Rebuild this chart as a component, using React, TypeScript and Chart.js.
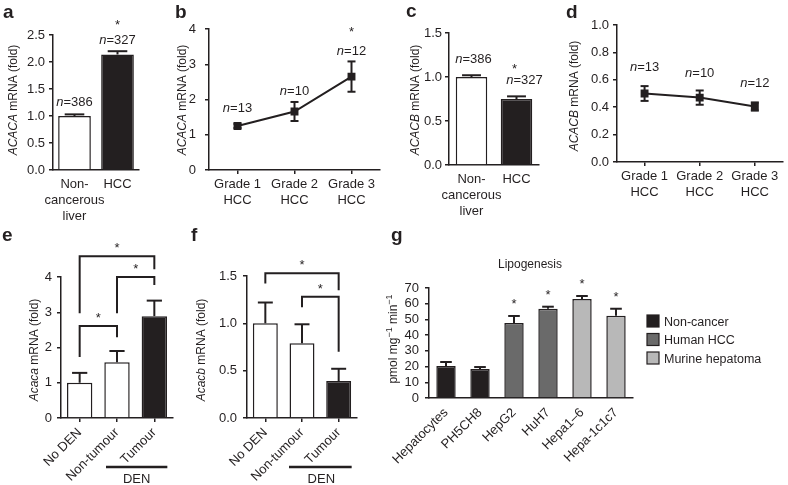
import React, { useEffect, useRef } from 'react';
import { Chart, registerables } from 'chart.js';

Chart.register(...registerables);

const FONT = '"Liberation Sans", Arial, Helvetica, sans-serif';
const INK = '#231f20';

// ---------- data ----------
// a
const aCategories = [['Non-', 'cancerous', 'liver'], 'HCC'];
const aValues = [1.0, 2.14];
const aErrors = [0.03, 0.06];
const aN = ['386', '327'];
const aTicks = { min: 0, max: 2.5, step: 0.5 };
// b
const bCategories = [['Grade 1', 'HCC'], ['Grade 2', 'HCC'], ['Grade 3', 'HCC']];
const bValues = [1.25, 1.66, 2.65];
const bErrors = [0.06, 0.27, 0.43];
const bN = ['13', '10', '12'];
const bTicks = { min: 0, max: 4, step: 1 };
// c
const cCategories = [['Non-', 'cancerous', 'liver'], 'HCC'];
const cValues = [1.0, 0.75];
const cErrors = [0.02, 0.03];
const cN = ['386', '327'];
const cTicks = { min: 0, max: 1.5, step: 0.5 };
// d
const dCategories = [['Grade 1', 'HCC'], ['Grade 2', 'HCC'], ['Grade 3', 'HCC']];
const dValues = [0.5, 0.47, 0.405];
const dErrors = [0.054, 0.052, 0.03];
const dN = ['13', '10', '12'];
const dTicks = { min: 0, max: 1.0, step: 0.2 };
// e
const eCategories = ['No DEN', 'Non-tumour', 'Tumour'];
const eValues = [1.0, 1.58, 2.89];
const eErrors = [0.28, 0.32, 0.44];
const eTicks = { min: 0, max: 4, step: 1 };
const eBrackets = [
  { from: 0, to: 2, level: 4.59, leftEnd: 2.97, rightEnd: 4.22 },
  { from: 1, to: 2, level: 4.0, leftEnd: 2.97, rightEnd: 3.77 },
  { from: 0, to: 1, level: 2.61, leftEnd: 1.73, rightEnd: 2.29 },
];
// f
const fCategories = ['No DEN', 'Non-tumour', 'Tumour'];
const fValues = [1.0, 0.79, 0.39];
const fErrors = [0.22, 0.2, 0.13];
const fTicks = { min: 0, max: 1.5, step: 0.5 };
const fBrackets = [
  { from: 0, to: 2, level: 1.53, leftEnd: 1.42, rightEnd: 1.35 },
  { from: 1, to: 2, level: 1.28, leftEnd: 1.17, rightEnd: 0.7 },
];
// g
const gCategories = ['Hepatocytes', 'PH5CH8', 'HepG2', 'HuH7', 'Hepa1\u20136', 'Hepa-1c1c7'];
const gValues = [20.4, 18.5, 47.7, 56.8, 63.0, 52.4];
const gErrors = [2.5, 1.2, 4.5, 1.3, 1.9, 4.4];
const gGroup = [0, 0, 1, 1, 2, 2];
const gSignificant = [false, false, true, true, true, true];
const gLegend = ['Non-cancer', 'Human HCC', 'Murine hepatoma'];
const gColors = ['#231f20', '#6a6a6a', '#b8b8b8'];
const gTicks = { min: 0, max: 70, step: 10 };

// ---------- drawing helpers ----------
type Part = { t: string; i?: boolean; sup?: boolean };

function drawRich(ctx: CanvasRenderingContext2D, parts: Part[], x: number, y: number, size: number, align: 'left' | 'center' | 'right' = 'center') {
  const fonts = parts.map((p) => `${p.i ? 'italic ' : ''}${p.sup ? Math.round(size * 0.72) : size}px ${FONT}`);
  const widths = parts.map((p, k) => {
    ctx.font = fonts[k];
    return ctx.measureText(p.t).width;
  });
  const total = widths.reduce((s, w) => s + w, 0);
  let cx = align === 'center' ? x - total / 2 : align === 'right' ? x - total : x;
  ctx.textAlign = 'left';
  ctx.textBaseline = 'alphabetic';
  parts.forEach((p, k) => {
    ctx.font = fonts[k];
    ctx.fillText(p.t, cx, p.sup ? y - size * 0.42 : y);
    cx += widths[k];
  });
}

function drawVTitle(ctx: CanvasRenderingContext2D, parts: Part[], x: number, y: number, size: number) {
  ctx.save();
  ctx.translate(x, y);
  ctx.rotate(-Math.PI / 2);
  ctx.fillStyle = INK;
  drawRich(ctx, parts, 0, size * 0.36, size);
  ctx.restore();
}

function text(ctx: CanvasRenderingContext2D, s: string, x: number, y: number, font: string, align: CanvasTextAlign = 'center') {
  ctx.font = font;
  ctx.fillStyle = INK;
  ctx.textAlign = align;
  ctx.textBaseline = 'alphabetic';
  ctx.fillText(s, x, y);
}

function star(ctx: CanvasRenderingContext2D, x: number, yCenter: number) {
  text(ctx, '*', x, yCenter + 7, `13px ${FONT}`);
}

function nLabel(ctx: CanvasRenderingContext2D, n: string, x: number, y: number) {
  ctx.fillStyle = INK;
  drawRich(ctx, [{ t: 'n', i: true }, { t: '=' + n }], x, y, 13);
}

function line(ctx: CanvasRenderingContext2D, pts: number[][], w = 2) {
  ctx.save();
  ctx.strokeStyle = INK;
  ctx.lineWidth = w;
  ctx.lineCap = 'butt';
  ctx.lineJoin = 'miter';
  ctx.beginPath();
  pts.forEach((p, k) => (k ? ctx.lineTo(p[0], p[1]) : ctx.moveTo(p[0], p[1])));
  ctx.stroke();
  ctx.restore();
}

// ---------- panel spec ----------
type Spec = {
  box: [number, number, number, number];
  area: [number, number, number, number];
  type: 'bar' | 'line';
  labels: any[];
  values: number[];
  errors: number[];
  ticks: { min: number; max: number; step: number };
  decimals: number;
  yPad: number;
  colors?: string[];
  barPct?: number;
  xTickMarks: boolean;
  rotate: boolean;
  draw: (chart: any, ctx: CanvasRenderingContext2D, px: (x: number) => number, py: (y: number) => number) => void;
};

function buildChart(canvas: HTMLCanvasElement, s: Spec) {
  const [bx, by, bw, bh] = s.box;
  const [L, T, R, B] = s.area;
  const l = L - bx, t = T - by, r = R - bx, b = B - by;
  const px = (x: number) => x - bx;
  const py = (y: number) => y - by;
  const isBar = s.type === 'bar';

  const dataset: any = isBar
    ? {
        data: s.values,
        backgroundColor: s.colors,
        borderColor: INK,
        borderWidth: 1.5,
        borderSkipped: 'bottom',
        barPercentage: s.barPct ?? 0.7,
        categoryPercentage: 1,
      }
    : {
        data: s.values,
        borderColor: INK,
        borderWidth: 2,
        pointStyle: 'rect',
        pointRadius: 5.6,
        pointBackgroundColor: INK,
        pointBorderColor: INK,
        pointBorderWidth: 0,
        tension: 0,
      };

  const errPlugin = {
    id: 'errbars',
    afterDatasetsDraw(chart: any) {
      const ctx = chart.ctx as CanvasRenderingContext2D;
      const y = chart.scales.y;
      const meta = chart.getDatasetMeta(0);
      meta.data.forEach((el: any, i: number) => {
        const v = s.values[i];
        const e = s.errors[i];
        const x = el.x;
        if (isBar) {
          const half = el.width * 0.3;
          const yTop = y.getPixelForValue(v + e);
          const yBase = y.getPixelForValue(v);
          line(ctx, [[x, yBase], [x, yTop]], 2);
          line(ctx, [[x - half, yTop], [x + half, yTop]], 2);
        } else {
          const yTop = y.getPixelForValue(v + e);
          const yBot = y.getPixelForValue(v - e);
          line(ctx, [[x, yBot], [x, yTop]], 2);
          line(ctx, [[x - 4, yTop], [x + 4, yTop]], 2);
          line(ctx, [[x - 4, yBot], [x + 4, yBot]], 2);
        }
      });
    },
  };

  const decor = {
    id: 'decor',
    afterDraw(chart: any) {
      const ctx = chart.ctx as CanvasRenderingContext2D;
      ctx.save();
      s.draw(chart, ctx, px, py);
      ctx.restore();
    },
  };

  return new Chart(canvas, {
    type: s.type,
    data: { labels: s.labels, datasets: [dataset] },
    options: {
      responsive: false,
      animation: false,
      devicePixelRatio: 1,
      layout: { padding: { left: 0, top: t, right: bw - r, bottom: 0 } },
      plugins: { legend: { display: false }, tooltip: { enabled: false }, title: { display: false } },
      scales: {
        x: {
          type: 'category',
          offset: true,
          grid: {
            display: s.xTickMarks,
            offset: false,
            drawOnChartArea: false,
            drawTicks: s.xTickMarks,
            tickLength: 4,
            color: INK,
            lineWidth: 1.5,
          },
          border: { display: true, color: INK, width: 1.5 },
          ticks: {
            color: INK,
            font: { family: FONT, size: 13 },
            padding: s.xTickMarks ? 3 : 7,
            autoSkip: false,
            maxRotation: s.rotate ? 45 : 0,
            minRotation: s.rotate ? 45 : 0,
          },
          afterFit(sc: any) {
            sc.height = bh - b;
            sc.paddingLeft = 0;
            sc.paddingRight = 0;
          },
        },
        y: {
          type: 'linear',
          min: s.ticks.min,
          max: s.ticks.max,
          grid: {
            display: true,
            drawOnChartArea: false,
            drawTicks: true,
            tickLength: 4,
            color: INK,
            lineWidth: 1.5,
          },
          border: { display: true, color: INK, width: 1.5 },
          ticks: {
            stepSize: s.ticks.step,
            autoSkip: false,
            color: INK,
            font: { family: FONT, size: 13 },
            padding: s.yPad,
            callback: (v: any) => Number(v).toFixed(s.decimals),
          },
          afterFit(sc: any) {
            sc.width = l;
            sc.paddingTop = 0;
            sc.paddingBottom = 0;
          },
        },
      },
    } as any,
    plugins: [errPlugin, decor],
  });
}

const LETTER = `bold 19px ${FONT}`;

const specs: Spec[] = [
  // a
  {
    box: [0, 0, 165, 230],
    area: [53, 35, 139, 170],
    type: 'bar',
    labels: aCategories,
    values: aValues,
    errors: aErrors,
    ticks: aTicks,
    decimals: 1,
    yPad: 4,
    colors: ['#ffffff', INK],
    barPct: 0.76,
    xTickMarks: false,
    rotate: false,
    draw(chart, ctx, px, py) {
      const y = chart.scales.y;
      const m = chart.getDatasetMeta(0).data;
      text(ctx, 'a', px(3), py(18), LETTER, 'left');
      drawVTitle(ctx, [{ t: 'ACACA', i: true }, { t: ' mRNA (fold)' }], px(13), py(100), 12);
      nLabel(ctx, aN[0], m[0].x, y.getPixelForValue(aValues[0] + aErrors[0]) - 8);
      nLabel(ctx, aN[1], m[1].x, y.getPixelForValue(aValues[1] + aErrors[1]) - 7);
      star(ctx, m[1].x, y.getPixelForValue(aValues[1] + aErrors[1]) - 29);
    },
  },
  // b
  {
    box: [165, 0, 230, 230],
    area: [209, 29, 380, 170],
    type: 'line',
    labels: bCategories,
    values: bValues,
    errors: bErrors,
    ticks: bTicks,
    decimals: 0,
    yPad: 9,
    xTickMarks: true,
    rotate: false,
    draw(chart, ctx, px, py) {
      const y = chart.scales.y;
      const m = chart.getDatasetMeta(0).data;
      text(ctx, 'b', px(175), py(18), LETTER, 'left');
      drawVTitle(ctx, [{ t: 'ACACA', i: true }, { t: ' mRNA (fold)' }], px(182), py(100), 12);
      const off = [12, 7, 6];
      m.forEach((el: any, i: number) => nLabel(ctx, bN[i], el.x, y.getPixelForValue(bValues[i] + bErrors[i]) - off[i]));
      star(ctx, m[2].x, y.getPixelForValue(bValues[2] + bErrors[2]) - 32);
    },
  },
  // c
  {
    box: [395, 0, 165, 230],
    area: [449, 33, 539, 165],
    type: 'bar',
    labels: cCategories,
    values: cValues,
    errors: cErrors,
    ticks: cTicks,
    decimals: 1,
    yPad: 3,
    colors: ['#ffffff', INK],
    barPct: 0.7,
    xTickMarks: false,
    rotate: false,
    draw(chart, ctx, px, py) {
      const y = chart.scales.y;
      const m = chart.getDatasetMeta(0).data;
      text(ctx, 'c', px(406), py(17), LETTER, 'left');
      drawVTitle(ctx, [{ t: 'ACACB', i: true }, { t: ' mRNA (fold)' }], px(415), py(100), 12);
      nLabel(ctx, cN[0], m[0].x + 2, y.getPixelForValue(cValues[0] + cErrors[0]) - 12);
      nLabel(ctx, cN[1], m[1].x + 8, y.getPixelForValue(cValues[1] + cErrors[1]) - 12);
      star(ctx, m[1].x - 2, y.getPixelForValue(cValues[1] + cErrors[1]) - 30);
    },
  },
  // d
  {
    box: [560, 0, 228, 230],
    area: [617, 25, 787, 162],
    type: 'line',
    labels: dCategories,
    values: dValues,
    errors: dErrors,
    ticks: dTicks,
    decimals: 1,
    yPad: 4,
    xTickMarks: true,
    rotate: false,
    draw(chart, ctx, px, py) {
      const y = chart.scales.y;
      const m = chart.getDatasetMeta(0).data;
      text(ctx, 'd', px(566), py(18), LETTER, 'left');
      drawVTitle(ctx, [{ t: 'ACACB', i: true }, { t: ' mRNA (fold)' }], px(574), py(96), 12);
      const off = [15, 13, 15];
      m.forEach((el: any, i: number) => nLabel(ctx, dN[i], el.x, y.getPixelForValue(dValues[i] + dErrors[i]) - off[i]));
    },
  },
  // e
  {
    box: [0, 222, 183, 263],
    area: [61, 277, 173, 418],
    type: 'bar',
    labels: eCategories,
    values: eValues,
    errors: eErrors,
    ticks: eTicks,
    decimals: 0,
    yPad: 5,
    colors: ['#ffffff', '#ffffff', INK],
    barPct: 0.68,
    xTickMarks: true,
    rotate: true,
    draw(chart, ctx, px, py) {
      const y = chart.scales.y;
      const m = chart.getDatasetMeta(0).data;
      text(ctx, 'e', px(2), py(241), LETTER, 'left');
      drawVTitle(ctx, [{ t: 'Acaca', i: true }, { t: ' mRNA (fold)' }], px(34), py(350), 12);
      eBrackets.forEach((br) => {
        const x0 = m[br.from].x, x1 = m[br.to].x;
        const yl = y.getPixelForValue(br.level);
        line(ctx, [[x0, y.getPixelForValue(br.leftEnd)], [x0, yl], [x1, yl], [x1, y.getPixelForValue(br.rightEnd)]], 2);
        star(ctx, (x0 + x1) / 2, yl - 11);
      });
      line(ctx, [[m[1].x - 11, py(467)], [m[2].x + 13, py(467)]], 2.5);
      text(ctx, 'DEN', (m[1].x + m[2].x) / 2 + 1, py(483), `13px ${FONT}`);
    },
  },
  // f
  {
    box: [183, 222, 202, 263],
    area: [247, 276, 357, 418],
    type: 'bar',
    labels: fCategories,
    values: fValues,
    errors: fErrors,
    ticks: fTicks,
    decimals: 1,
    yPad: 6,
    colors: ['#ffffff', '#ffffff', INK],
    barPct: 0.68,
    xTickMarks: true,
    rotate: true,
    draw(chart, ctx, px, py) {
      const y = chart.scales.y;
      const m = chart.getDatasetMeta(0).data;
      text(ctx, 'f', px(191), py(241), LETTER, 'left');
      drawVTitle(ctx, [{ t: 'Acacb', i: true }, { t: ' mRNA (fold)' }], px(201), py(350), 12);
      fBrackets.forEach((br) => {
        const x0 = m[br.from].x, x1 = m[br.to].x;
        const yl = y.getPixelForValue(br.level);
        line(ctx, [[x0, y.getPixelForValue(br.leftEnd)], [x0, yl], [x1, yl], [x1, y.getPixelForValue(br.rightEnd)]], 2);
        star(ctx, (x0 + x1) / 2, yl - 11);
      });
      line(ctx, [[m[1].x - 13, py(467)], [m[2].x + 13, py(467)]], 2.5);
      text(ctx, 'DEN', (m[1].x + m[2].x) / 2 + 1, py(483), `13px ${FONT}`);
    },
  },
  // g
  {
    box: [385, 222, 403, 263],
    area: [429, 288, 633, 398],
    type: 'bar',
    labels: gCategories,
    values: gValues,
    errors: gErrors,
    ticks: gTicks,
    decimals: 0,
    yPad: 6,
    colors: gGroup.map((k) => gColors[k]),
    barPct: 0.57,
    xTickMarks: false,
    rotate: true,
    draw(chart, ctx, px, py) {
      const y = chart.scales.y;
      const m = chart.getDatasetMeta(0).data;
      text(ctx, 'g', px(391), py(241), LETTER, 'left');
      drawVTitle(
        ctx,
        [{ t: 'pmol mg' }, { t: '\u22121', sup: true }, { t: ' min' }, { t: '\u22121', sup: true }],
        px(393),
        py(339),
        12,
      );
      text(ctx, 'Lipogenesis', (chart.chartArea.left + chart.chartArea.right) / 2 - 1, py(268), `12px ${FONT}`);
      m.forEach((el: any, i: number) => {
        if (gSignificant[i]) star(ctx, el.x, y.getPixelForValue(gValues[i] + gErrors[i]) - 15);
      });
      gLegend.forEach((lab, k) => {
        const cy = py(321 + k * 18.5);
        ctx.fillStyle = gColors[k];
        ctx.fillRect(px(647), cy - 6, 12, 12);
        ctx.strokeStyle = INK;
        ctx.lineWidth = 1.2;
        ctx.strokeRect(px(647), cy - 6, 12, 12);
        text(ctx, lab, px(664), cy + 4.5, `12.5px ${FONT}`, 'left');
      });
    },
  },
];

function Panel({ spec }: { spec: Spec }) {
  const ref = useRef<HTMLCanvasElement>(null);
  useEffect(() => {
    if (!ref.current) return;
    const chart = buildChart(ref.current, spec);
    return () => chart.destroy();
  }, [spec]);
  const [x, y, w, h] = spec.box;
  return (
    <canvas
      ref={ref}
      width={w}
      height={h}
      style={{ position: 'absolute', left: x, top: y, width: w, height: h, display: 'block' }}
    />
  );
}

export default function App() {
  return (
    <div style={{ position: 'fixed', left: 0, top: 0, width: 788, height: 485, background: '#ffffff', overflow: 'hidden' }}>
      {specs.map((s, i) => (
        <Panel key={i} spec={s} />
      ))}
    </div>
  );
}
